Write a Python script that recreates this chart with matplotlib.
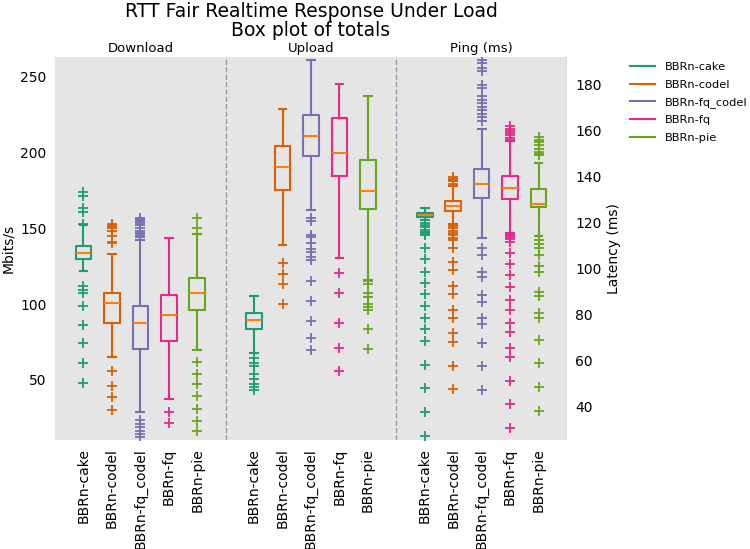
import matplotlib
matplotlib.use('Agg')
import matplotlib.pyplot as plt
from matplotlib.lines import Line2D

# series and colours
series = ['BBRn-cake', 'BBRn-codel', 'BBRn-fq_codel', 'BBRn-fq', 'BBRn-pie']
colors = ['#1b9e77', '#d95f02', '#7570b3', '#e7298a', '#66a61e']
panels = ['Download', 'Upload', 'Ping (ms)']

# Download (Mbits/s)
dl_med = [134, 100.5, 87.5, 93, 107.5]
dl_q1 = [129.5, 87.5, 70.5, 75.5, 96]
dl_q3 = [138.5, 107.5, 99, 106, 117.5]
dl_lo = [122, 65, 28.5, 37.5, 69.5]
dl_hi = [152, 133, 142, 143.5, 146]
dl_fliers = [
    [174, 171, 163.5, 161, 153, 112, 109, 107, 98.5, 86.5, 74, 61, 48],
    [153, 152, 151, 150, 148, 145, 141, 140, 55.5, 46, 38.5, 30],
    [157, 156, 155.5, 155, 154, 153, 152, 150, 148, 147, 146, 145, 144,
     23.5, 21, 19, 16.5, 14, 12],
    [29, 21.5],
    [156.5, 150.5, 62, 54, 47, 39.5, 31, 23, 16],
]

# Upload (Mbits/s)
ul_med = [89.5, 190.5, 211, 199.5, 174.5]
ul_q1 = [83.5, 175, 197.5, 184.5, 163]
ul_q3 = [94, 204, 225, 222.5, 195]
ul_lo = [68, 139, 162, 130.5, 116]
ul_hi = [105.5, 228.5, 261, 245.5, 237.5]
ul_fliers = [
    [64.5, 61, 59, 54, 50.5, 47, 45, 43],
    [127, 120, 113.5, 100],
    [156.5, 155, 145.5, 144, 140, 136.5, 134.5, 131, 129, 115, 102, 89, 77.5, 69.5],
    [120.5, 107, 87.5, 71, 55.5],
    [115.5, 113.5, 107, 104.5, 100, 98, 96, 83.5, 70.5],
]

# Ping (ms)
pg_med = [123.2, 127.3, 137, 135, 128.2]
pg_q1 = [122.4, 125.2, 130.6, 130.3, 126.7]
pg_q3 = [124.1, 129.5, 143.4, 140.4, 134.6]
pg_lo = [121, 119.5, 113.5, 115.5, 114]
pg_hi = [126.3, 136, 160.7, 155.5, 146]
pg_fliers = [
    [120, 119, 118, 117, 116, 115.5, 115, 114.5, 109, 104, 98.5, 93.5, 89,
     83.5, 78.5, 73.5, 68.5, 58, 48, 37.5, 27],
    [140, 139, 138.5, 138, 137, 118.5, 117.5, 116.5, 115.5, 114.5, 113.5, 112.5,
     109, 103, 99.5, 92.5, 89, 82, 78.5, 72, 68, 57.5, 47.5],
    [191, 189.5, 187.5, 186, 180, 178.5, 175, 173.5, 172, 170.5, 169, 167.5,
     166, 164.5, 109, 106, 98.5, 96.5, 88.5, 85.5, 78.5, 76, 67.5, 57.5, 47],
    [162, 161, 160, 159, 158, 157, 156, 115, 114.5, 114, 113.5, 113, 111.5,
     107, 102, 97, 92, 86.5, 82, 76.5, 72.5, 65.5, 61.5, 51, 41, 30.5],
    [157.5, 156, 155, 154, 152, 151, 150, 149.5, 112.5, 110.5, 109, 106, 101,
     98.5, 90, 88, 80.5, 78.5, 69, 59, 48.5, 38],
]

fig = plt.figure(figsize=(7.5, 5.49), dpi=100)
ax = fig.add_axes([55 / 750, 109 / 549, 512 / 750, 383 / 549])
ax2 = ax.twinx()
ax.set_facecolor('#e5e5e5')


def draw(axis, start, med, q1, q3, lo, hi, fliers):
    for i in range(5):
        st = dict(med=med[i], q1=q1[i], q3=q3[i], whislo=lo[i],
                  whishi=hi[i], fliers=fliers[i])
        c = colors[i]
        axis.bxp([st], positions=[start + i], widths=0.55, manage_ticks=False,
                 boxprops=dict(color=c, lw=1.5),
                 whiskerprops=dict(color=c, lw=1.5),
                 capprops=dict(color=c, lw=1.5),
                 medianprops=dict(color='#ff7f0e', lw=1.5),
                 flierprops=dict(marker='+', markeredgecolor=c,
                                 markersize=7, markeredgewidth=1.3))


draw(ax, 1, dl_med, dl_q1, dl_q3, dl_lo, dl_hi, dl_fliers)
draw(ax, 7, ul_med, ul_q1, ul_q3, ul_lo, ul_hi, ul_fliers)
draw(ax2, 13, pg_med, pg_q1, pg_q3, pg_lo, pg_hi, pg_fliers)

ax.set_xlim(0, 18)
ax.set_ylim(10.3, 263)
ax2.set_ylim(25.3, 192.2)
for x in [6, 12, 18]:
    ax.axvline(x, color='#999999', ls='--', lw=1)

pos = [1, 2, 3, 4, 5, 7, 8, 9, 10, 11, 13, 14, 15, 16, 17]
ax.set_xticks(pos)
ax.set_xticklabels(series * 3, rotation=90, fontsize=10)
ax.set_yticks([50, 100, 150, 200, 250])
ax2.set_yticks([40, 60, 80, 100, 120, 140, 160, 180])
ax.tick_params(length=0, pad=6, labelsize=10)
ax2.tick_params(length=0, pad=6, labelsize=10)
for a in (ax, ax2):
    for s in a.spines.values():
        s.set_visible(False)

ax.set_ylabel('Mbits/s', fontsize=10)
ax2.set_ylabel('Latency (ms)', fontsize=10)

for k, name in enumerate(panels):
    ax.text(3 + 6 * k, 1.006, name, transform=ax.get_xaxis_transform(),
            ha='center', va='bottom', fontsize=9.5)

fig.text(311 / 750, 1 - 2 / 549, 'RTT Fair Realtime Response Under Load\nBox plot of totals',
         ha='center', va='top', fontsize=13.5, linespacing=1.0)

handles = [Line2D([], [], color=c, lw=1.5) for c in colors]
fig.legend(handles, series, loc='upper left', bbox_to_anchor=(620 / 750, 1 - 52 / 549),
           frameon=False, fontsize=8.2, handlelength=2.2, labelspacing=0.65)

fig.savefig('out.png', dpi=100)
